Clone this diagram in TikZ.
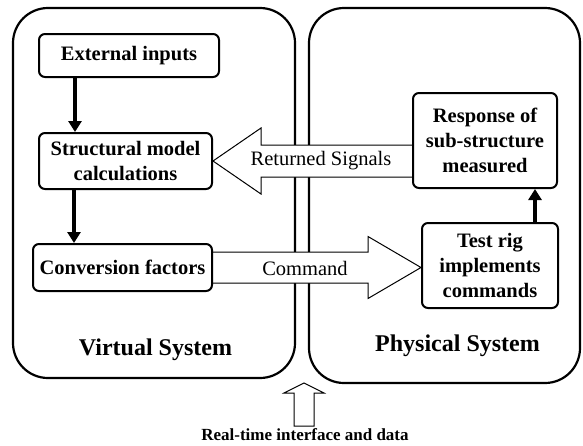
\documentclass[tikz,border=0pt]{standalone}
\usepackage{fontspec}
\setmainfont{Liberation Serif}
\usetikzlibrary{arrows.meta,calc}
\pgfdeclarelayer{bg}
\pgfsetlayers{bg,main}
\begin{document}
\begin{tikzpicture}[x=1pt,y=-1pt,
  panel/.style={draw, line width=2.2pt, rounded corners=35pt},
  box/.style={draw, line width=2pt, rounded corners=6pt, fill=white, align=center,
    font=\fontsize{20.5}{25}\selectfont\bfseries, inner sep=0pt},
  flow/.style={line width=4pt, -{Triangle[length=11pt,width=13pt]}},
  hollow/.style={draw, fill=white, line width=1pt, line join=miter},
  lbl/.style={font=\fontsize{20.5}{24}\selectfont, inner sep=0pt},
  title/.style={font=\fontsize{24}{28}\selectfont\bfseries, inner sep=0pt}]
\useasboundingbox (0,0) rectangle (583,445);

% boxes
\node[box, minimum width=180pt, minimum height=43pt] (ext) at (129,55.5) {External inputs};
\node[box, minimum width=173pt, minimum height=56pt] (struct) at (125.5,161) {Structural model\\calculations};
\node[box, minimum width=179pt, minimum height=47pt] (conv) at (122.5,267.5) {Conversion factors};
\node[box, minimum width=144pt, minimum height=95pt] (resp) at (485,140.5) {Response of\\sub-structure\\measured};
\node[box, minimum width=136pt, minimum height=85pt] (test) at (490,265.5) {Test rig\\implements\\commands};

% titles
\node[title] (vs) at (155.5,350) {Virtual System};
\node[title] (ps) at (457.5,346) {Physical System};
\node[font=\fontsize{17}{20}\selectfont\bfseries, inner sep=0pt, anchor=base] (rt) at (305,440) {Real-time interface and data};

\begin{pgfonlayer}{bg}
  \draw[panel] (13,8) rectangle (295,378);
  \draw[panel] (309,8) rectangle (580,383);
  % returned signals arrow
  \coordinate (rtip) at (struct.east);
  \coordinate (rend) at (resp.west |- struct.east);
  \draw[hollow] ($(rend)+(0,-16)$) -- ($(rtip)+(48,-16)$) -- ($(rtip)+(48,-33)$) -- (rtip)
    -- ($(rtip)+(48,33)$) -- ($(rtip)+(48,16)$) -- ($(rend)+(0,16)$);
  % command arrow
  \coordinate (cstart) at (conv.east);
  \coordinate (ctip) at (test.west |- conv.east);
  \draw[hollow] (cstart) ++(0,-15.5) -- ($(ctip)+(-53,-15.5)$) -- ($(ctip)+(-53,-31)$) -- (ctip)
    -- ($(ctip)+(-53,31)$) -- ($(ctip)+(-53,15.5)$) -- ($(cstart)+(0,15.5)$);
\end{pgfonlayer}

\node[lbl] (rs) at (321,161) {Returned Signals};
\node[lbl] (cmd) at (305,268) {Command};

% flow arrows
\coordinate (a1) at (75,0);
\coordinate (a2) at (74,0);
\coordinate (a3) at (535,0);
\draw[flow] (a1 |- ext.south) -- (a1 |- struct.north);
\draw[flow] (a2 |- struct.south) -- (a2 |- conv.north);
\draw[flow] (a3 |- test.north) -- (a3 |- resp.south);

% interface arrow
\coordinate (itip) at (304,383);
\coordinate (ibase) at (304,426);
\draw[hollow] (itip) -- ($(itip)+(20,10)$) -- ($(itip)+(10,10)$) -- ($(ibase)+(10,0)$)
  -- ($(ibase)+(-10,0)$) -- ($(itip)+(-10,10)$) -- ($(itip)+(-20,10)$) -- cycle;
\end{tikzpicture}
\end{document}
